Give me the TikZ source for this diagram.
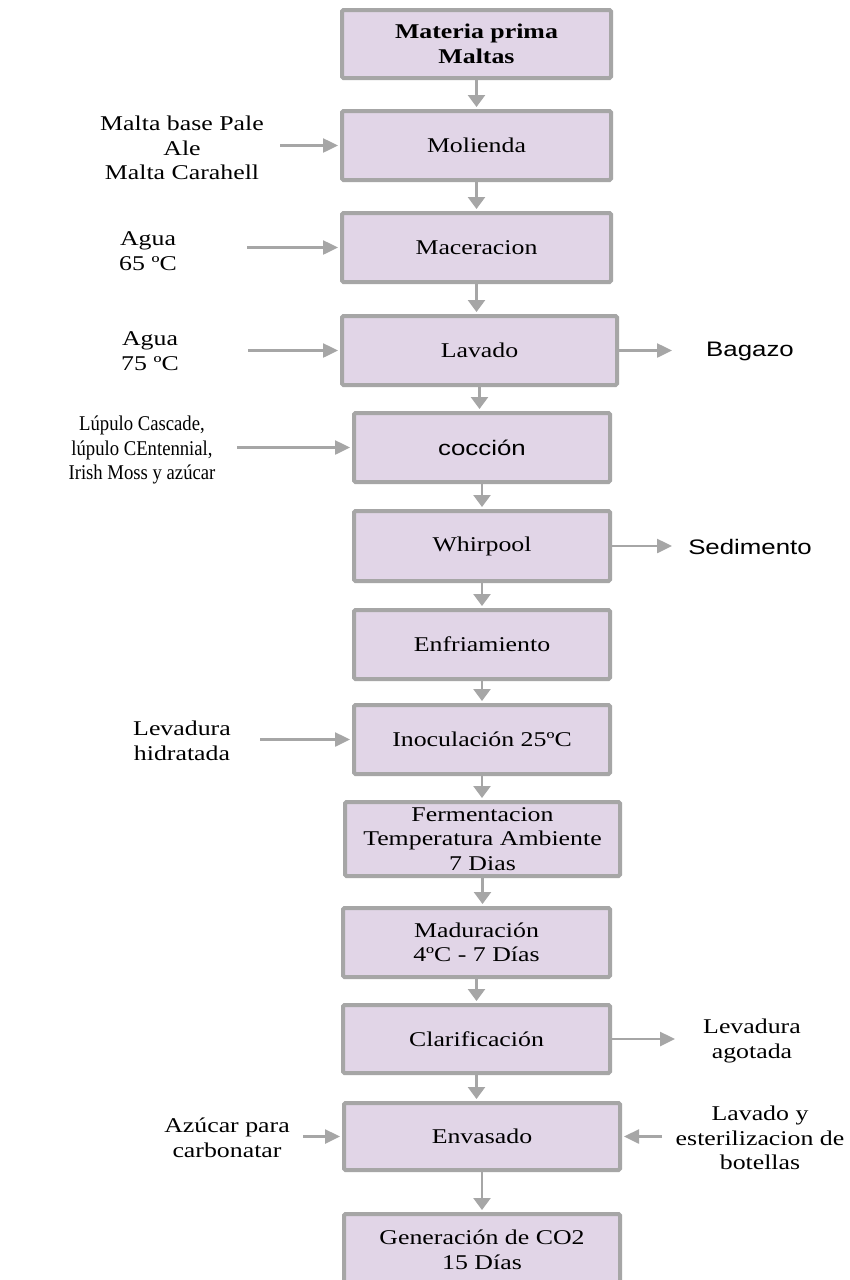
\documentclass[tikz,border=0pt]{standalone}
\usepackage{fontspec}
\setmainfont{Liberation Serif}[FakeStretch=1.23]
\newfontfamily\sansf{Liberation Sans}[FakeStretch=1.23]
\newfontfamily\narrowf{Liberation Serif}[FakeStretch=0.89]
\usetikzlibrary{arrows.meta}
\definecolor{boxfill}{HTML}{E1D5E7}
\definecolor{edgegray}{HTML}{A6A6A6}
\tikzset{
  proc/.style={draw=edgegray, line width=4pt, fill=boxfill, rounded corners=1.5pt,
    align=center, inner sep=0pt, font=\fontsize{21}{24.5}\selectfont},
  lbl/.style={align=center, inner sep=0pt, font=\fontsize{21}{24.5}\selectfont},
  varr/.style={draw=edgegray, line width=2.5pt, -{Triangle[length=12pt,width=17pt]}},
  harr/.style={draw=edgegray, line width=2.5pt, -{Triangle[length=15pt,width=14pt]}},
}
\begin{document}
\begin{tikzpicture}[x=1pt, y=-1pt]
\useasboundingbox (0,0) rectangle (849,1280);
\fill[white] (0,0) rectangle (849,1280);
\clip (0,0) rectangle (849,1280);

% process boxes
\node[proc, minimum width=269pt, minimum height=68pt] (mat) at (476.5,44) {\textbf{Materia prima}\\\textbf{Maltas}};
\node[proc, minimum width=269pt, minimum height=69pt] (mol) at (476.5,145.5) {Molienda};
\node[proc, minimum width=269pt, minimum height=69pt] (mac) at (476.5,247.5) {Maceracion};
\node[proc, minimum width=275pt, minimum height=69pt] (lav) at (479.5,350.5) {Lavado};
\node[proc, minimum width=256pt, minimum height=69pt] (coc) at (482,447.5) {\sansf cocción};
\node[proc, minimum width=256pt, minimum height=70pt] (whi) at (482,546) {Whirpool};
\node[proc, minimum width=256pt, minimum height=69pt] (enf) at (482,644.5) {Enfriamiento};
\node[proc, minimum width=256pt, minimum height=69pt] (ino) at (482,739.5) {Inoculación 25ºC};
\node[proc, minimum width=275pt, minimum height=74pt] (fer) at (482.5,839) {Fermentacion\\Temperatura Ambiente\\7 Dias};
\node[proc, minimum width=267pt, minimum height=69pt] (mad) at (476.5,942.5) {Maduración\\4ºC - 7 Días};
\node[proc, minimum width=267pt, minimum height=68pt] (cla) at (476.5,1039) {Clarificación};
\node[proc, minimum width=276pt, minimum height=67pt] (env) at (482,1136.5) {Envasado};
\node[proc, minimum width=276pt, minimum height=72pt] (gen) at (482,1250) {Generación de CO2\\15 Días};

% main flow
\draw[varr] (mat.south) -- ([yshift=2pt]mat.south |- mol.north);
\draw[varr] (mol.south) -- ([yshift=2pt]mol.south |- mac.north);
\draw[varr] (mac.south) -- ([yshift=2pt]mac.south |- lav.north);
\draw[varr] (lav.south) -- ([yshift=2pt]lav.south |- coc.north);
\draw[varr] (coc.south) -- ([yshift=2pt]coc.south |- whi.north);
\draw[varr] (whi.south) -- ([yshift=2pt]whi.south |- enf.north);
\draw[varr] (enf.south) -- ([yshift=2pt]enf.south |- ino.north);
\draw[varr] (ino.south) -- ([yshift=2pt]ino.south |- fer.north);
\draw[varr] (fer.south) -- ([yshift=2pt]fer.south |- mad.north);
\draw[varr] (mad.south) -- ([yshift=2pt]mad.south |- cla.north);
\draw[varr] (cla.south) -- ([yshift=2pt]cla.south |- env.north);
\draw[varr] (env.south) -- ([yshift=2pt]env.south |- gen.north);

% inputs
\node[lbl] (i1) at (182,148) {Malta base Pale\\Ale\\Malta Carahell};
\node[lbl] (i2) at (148,251) {Agua\\65 ºC};
\node[lbl] (i3) at (150,351) {Agua\\75 ºC};
\node[lbl, font=\fontsize{21}{24.5}\narrowf] (i4) at (142,450) {Lúpulo Cascade,\\lúpulo CEntennial,\\Irish Moss y azúcar};
\node[lbl] (i5) at (182,741) {Levadura\\hidratada};
\node[lbl] (i6) at (227,1138) {Azúcar para\\carbonatar};
\node[lbl] (i7) at (760,1138) {Lavado y\\esterilizacion de\\botellas};

\coordinate (a1) at (280,145.5);
\coordinate (a2) at (247,247.5);
\coordinate (a3) at (248,350.5);
\coordinate (a4) at (237,447.5);
\coordinate (a5) at (260,739.5);
\coordinate (a6) at (303,1136.5);
\coordinate (a7) at (662,1136.5);
\draw[harr] (a1) -- ([xshift=-2pt]mol.west);
\draw[harr] (a2) -- ([xshift=-2pt]mac.west);
\draw[harr] (a3) -- ([xshift=-2pt]lav.west);
\draw[harr] (a4) -- ([xshift=-2pt]coc.west);
\draw[harr] (a5) -- ([xshift=-2pt]ino.west);
\draw[harr] (a6) -- ([xshift=-2pt]env.west);
\draw[harr] (a7) -- ([xshift=2pt]env.east);

% outputs
\node[lbl, font=\fontsize{21}{24.5}\sansf] (o1) at (750,351) {Bagazo};
\node[lbl, font=\fontsize{21}{24.5}\sansf] (o2) at (750,547) {Sedimento};
\node[lbl] (o3) at (752,1041) {Levadura\\agotada};
\coordinate (b1) at (672,350.5);
\coordinate (b2) at (672,546);
\coordinate (b3) at (675,1039);
\draw[harr] (lav.east) -- (b1);
\draw[harr] (whi.east) -- (b2);
\draw[harr] (cla.east) -- (b3);
\end{tikzpicture}
\end{document}
